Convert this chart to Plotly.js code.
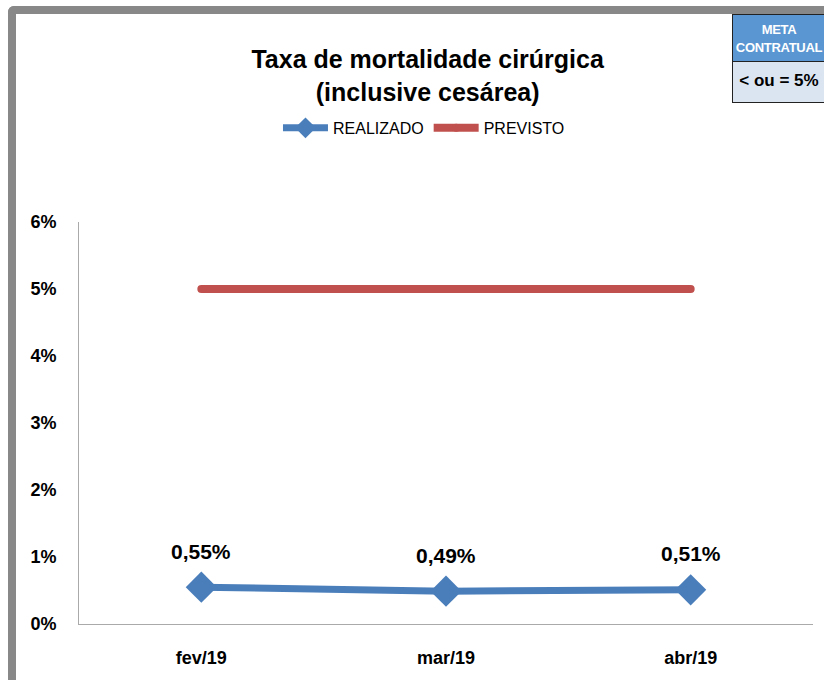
<!DOCTYPE html>
<html>
<head>
<meta charset="utf-8">
<script src="https://cdn.plot.ly/plotly-3.0.1.min.js"></script>
<style>
  html, body { margin:0; padding:0; background:#fff; }
  #wrap { position:relative; width:824px; height:680px; overflow:hidden; }
  #chart { position:absolute; left:0; top:0; width:824px; height:680px; }
  .frameTop { position:absolute; left:8px; top:6px; width:830px; height:8px; background:#888; border-top-left-radius:6px; }
  .frameLeft { position:absolute; left:8px; top:6px; width:8px; height:700px; background:#888; border-top-left-radius:6px; }
  #meta { position:absolute; left:732px; top:14px; width:100px; font-family:"Liberation Sans", Arial, sans-serif; font-weight:bold; }
  #meta .h { background:#5a96d2; color:#fff; font-size:13px; line-height:18px; padding:6px 0 0 0; height:48px; border:1px solid #222; box-sizing:border-box; }
  #meta .h span { display:block; width:92px; text-align:center; letter-spacing:-0.3px; }
  #meta .v { background:#dbe5f1; color:#000; font-size:17px; height:41px; line-height:38px; border:1px solid #222; border-top:none; box-sizing:border-box; }
  #meta .v span { display:block; width:92px; text-align:center; }
</style>
</head>
<body>
<div id="wrap">
  <div id="chart"></div>
  <div class="frameTop"></div>
  <div class="frameLeft"></div>
  <div id="meta">
    <div class="h"><span>META<br>CONTRATUAL</span></div>
    <div class="v"><span>&lt; ou = 5%</span></div>
  </div>
</div>
<script>
const categories = ["fev/19", "mar/19", "abr/19"];
const realizado = [0.0055, 0.0049, 0.0051];
const realizadoLabels = ["0,55%", "0,49%", "0,51%"];
const previsto = [0.05, 0.05, 0.05];
const yTickVals = [0, 0.01, 0.02, 0.03, 0.04, 0.05, 0.06];
const yTickText = ["0%", "1%", "2%", "3%", "4%", "5%", "6%"];

const FONT = "Liberation Sans, Arial, sans-serif";

const traces = [
  {
    x: categories, y: realizado, name: "REALIZADO", type: "scatter", mode: "lines+markers",
    line: { color: "#4a7ebb", width: 7 },
    marker: { symbol: "diamond", size: 24, color: "#4a7ebb" },
    hoverinfo: "skip"
  },
  {
    x: categories, y: previsto, name: "PREVISTO", type: "scatter", mode: "lines+markers",
    line: { color: "#c0504d", width: 8 },
    marker: { symbol: "circle", size: 8, color: "#c0504d" },
    hoverinfo: "skip"
  }
];

const annotations = categories.map((c, i) => ({
  x: c, y: realizado[i], xref: "x", yref: "y",
  text: realizadoLabels[i], showarrow: false, yshift: 36,
  font: { family: FONT, size: 21, color: "#000", weight: "bold" }
}));

const layout = {
  width: 824, height: 680,
  margin: { l: 79, r: 11, t: 222, b: 56 },
  paper_bgcolor: "#fff", plot_bgcolor: "#fff",
  title: {
    text: "<b>Taxa de mortalidade cirúrgica<br>(inclusive cesárea)</b>",
    font: { family: FONT, size: 25, color: "#000" },
    x: 0.519, xref: "container", xanchor: "center",
    y: 1 - 68 / 680, yref: "container", yanchor: "middle"
  },
  showlegend: true,
  legend: {
    orientation: "h", x: 0.47, xanchor: "center", y: 1.234, yanchor: "middle",
    font: { family: FONT, size: 16, color: "#000" },
    itemwidth: 45, traceorder: "normal"
  },
  xaxis: {
    type: "category", range: [-0.5, 2.5],
    showline: true, linecolor: "#aaa", linewidth: 1,
    showgrid: false, zeroline: false, ticks: "",
    ticklabelstandoff: 17,
    tickfont: { family: FONT, size: 18, color: "#000", weight: "bold" }
  },
  yaxis: {
    range: [0, 0.06], tickvals: yTickVals, ticktext: yTickText,
    showline: true, linecolor: "#aaa", linewidth: 1,
    showgrid: false, zeroline: false, ticks: "",
    ticklabelstandoff: 18,
    tickfont: { family: FONT, size: 18, color: "#000", weight: "bold" }
  },
  annotations: annotations
};

Plotly.newPlot("chart", traces, layout, { displayModeBar: false, staticPlot: true });
</script>
</body>
</html>
